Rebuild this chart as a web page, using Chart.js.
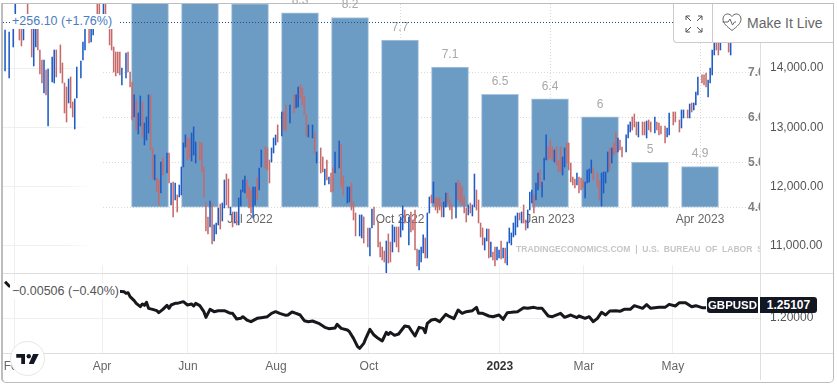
<!DOCTYPE html>
<html>
<head>
<meta charset="utf-8">
<script src="https://cdn.jsdelivr.net/npm/chart.js@4/dist/chart.umd.min.js"></script>
<style>
  html, body { margin: 0; padding: 0; background: #fff; width: 837px; height: 385px; overflow: hidden; font-family: "Liberation Sans", sans-serif; }
  canvas { position: absolute; display: block; }
  .frame { position: absolute; left: 1px; top: 3px; width: 830px; height: 378px; border: 1px solid #bdbdbd; border-left-width: 2px; border-radius: 0 0 5px 5px; }
  .hline { position: absolute; left: 3px; width: 830px; height: 1px; background: #dedede; }
  .vline { position: absolute; left: 760px; top: 43px; width: 1px; height: 337px; background: #dedede; }
  .change { position: absolute; background: #fff; white-space: nowrap; }
  #priceChange { left: 10px; top: 14px; width: 108px; height: 15px; line-height: 15px; font-size: 12.5px; color: #4a7cc0; padding-left: 2px; box-sizing: border-box; }
  #pairChange { left: 10px; top: 283px; width: 110px; height: 16px; line-height: 16px; font-size: 12.5px; color: #555; padding-left: 2px; box-sizing: border-box; }
  .toolbar { position: absolute; left: 673px; top: 4px; width: 159px; height: 38px; background: #fff; border-left: 1px solid #ccc; border-bottom: 1px solid #ccc; border-radius: 0 0 0 4px; }
  .toolbar .divider { position: absolute; left: 38px; top: 0; width: 1px; height: 38px; background: #ccc; }
  .toolbar svg { position: absolute; }
  .toolbar span { position: absolute; left: 73px; top: 11px; font-size: 14px; line-height: 16px; color: #666; white-space: nowrap; }
  .tag { position: absolute; top: 297px; height: 16px; line-height: 16px; background: #131722; color: #fff; font-size: 11.5px; font-weight: bold; text-align: center; }
  #pairTag { left: 707px; width: 51px; border-radius: 3px 0 0 3px; }
  #lastTag { left: 760px; width: 57px; border-radius: 0 3px 3px 0; font-size: 12px; }
  .logo { position: absolute; left: 10px; top: 341px; width: 33px; height: 33px; border: 1px solid #e6e6e6; border-radius: 50%; background: #fff; }
  .logo svg { position: absolute; left: 5px; top: 12px; }
</style>
</head>
<body>
<div class="frame"></div>
<canvas id="priceChart" width="830" height="273" style="left:3px;top:0"></canvas>
<canvas id="pairChart" width="830" height="109" style="left:3px;top:273px"></canvas>
<div class="hline" style="top:273px"></div>
<div class="hline" style="top:353px"></div>
<div class="vline"></div>
<div class="change" id="priceChange">+256.10 (+1.76%)</div>
<div class="change" id="pairChange">&#8722;0.00506 (&#8722;0.40%)</div>
<div class="toolbar">
  <svg style="left:11px;top:11px" width="18" height="18" viewBox="0 0 18 18" fill="none" stroke="#555" stroke-width="1">
    <path d="M1 5V1H5M1 1L6 6M13 1H17V5M17 1L12 6M1 13V17H5M1 17L6 12M17 13V17H13M17 17L12 12"/>
  </svg>
  <div class="divider"></div>
  <svg style="left:48px;top:9px" width="20" height="19" viewBox="0 0 20 19" fill="none" stroke="#666" stroke-width="1">
    <path d="M10 17.5C5 13.5 1 10.5 1 6C1 3 3 1 5.5 1C7.5 1 9 2 10 3.5C11 2 12.500 1 14.500 1C17 1 19 3 19 6C19 10.500 15 13.500 10 17.500Z"/>
    <path d="M0.500 9H6L8 6L10.500 12L12.500 9H14"/>
  </svg>
  <span>Make It Live</span>
</div>
<div class="tag" id="pairTag">GBPUSD</div>
<div class="tag" id="lastTag">1.25107</div>
<div class="logo">
  <svg width="23" height="10" viewBox="0 0 36 16" fill="#131722">
    <path d="M14 16H8V6H0V0H14Z"/>
    <circle cx="20" cy="3.500" r="3.500"/>
    <path d="M27 0H36L28 16H20Z"/>
  </svg>
</div>

<script>
// Monthly US inflation bars (May 2022 - Apr 2023)
const cpiMonths = ['May 2022', 'Jun 2022', 'Jul 2022', 'Aug 2022', 'Sep 2022', 'Oct 2022', 'Nov 2022', 'Dec 2022', 'Jan 2023', 'Feb 2023', 'Mar 2023', 'Apr 2023'];
const cpiValues = [8.6, 9.1, 8.5, 8.3, 8.2, 7.7, 7.1, 6.5, 6.4, 6, 5, 4.9];
const cpiTicks = [7, 6, 5, 4];
const cpiTickLabels = ['7.0', '6.0', '5.0', '4.0'];
const cpiDateTicks = [2, 5, 8, 11];
const cpiDateLabels = ['Jul 2022', 'Oct 2022', 'Jan 2023', 'Apr 2023'];

// Daily price range bars
const candleDay = [
  1,3,5,6,8,9,10,12,14,15,
  16,17,18,19,20,21,22,24,25,26,
  28,29,30,31,32,33,34,35,36,38,
  39,40,42,43,44,46,47,49,50,52,
  53,54,55,56,57,58,60,61,62,63,
  64,65,66,67,68,69,70,71,72,73,
  74,75,76,77,78,80,81,82,83,84,
  85,86,87,88,89,90,91,92,93,94,
  96,97,98,99,100,101,102,103,104,105,
  106,107,108,109,110,111,112,113,114,115,
  116,117,118,119,120,121,122,123,124,125,
  126,128,129,130,131,132,133,134,136,137,
  138,140,142,143,144,145,146,147,148,149,
  151,152,153,155,156,157,158,159,160,161,
  162,164,165,166,168,169,170,171,172,174,
  175,176,178,179,180,181,183,184,185,186,
  187,188,189,190,191,192,193,194,195,196,
  198,199,200,201,202,203,204,205,206,207,
  208,209,210,211,212,213,214,215,216,217,
  218,219,221,222,223,224,225,226,227,228,
  229,230,231,232,233,234,235,236,237,238,
  239,240,241,242,243,244,245,246,247,248,
  249,250,251,252,253,254,255,256,257,258,
  259,260,261,262,263,264,265,266,267,268,
  269,270,271,272,273,274,275,276,277,278,
  279,280,281,282,283,284,285,286,287,288,
  290,291,292,293,294,295,296,297,298,299,
  300,301,302,304,305,306,307,308,309,310,
  312,313,314,315,316,318,319,320,321,323,
  324,325,327,328,330,331,332,334,335,336,
  337,338,339,341,342,343,344,345,346,347,
  348,349,350,354,355
];
const candleHigh = [
  14643,14609,14812,15099,14897,14897,14812,15099,14728,14728,
  14728,14728,14305,14136,14136,13967,13984,14187,14305,14305,
  14390,14085,13747,13680,13815,13849,13426,13477,14018,14119,
  14440,14728,14728,14728,14728,15099,15099,15099,15099,14728,
  14728,14356,14271,14271,14271,14001,14254,14271,13933,13764,
  13545,13460,13240,13528,13426,13071,13173,13545,13545,12649,
  12531,12142,12108,12412,12480,12564,12564,12057,12074,12057,
  11855,12023,12328,12733,12869,12818,12818,12902,13004,12750,
  12750,12733,12328,11736,11483,11753,11719,11348,11381,11635,
  11702,11719,12108,12209,12125,11652,11567,11567,11567,11804,
  11939,12108,12176,12108,11990,11939,11990,11990,12142,12311,
  12615,12666,12649,12446,12649,12818,12869,13038,13257,13257,
  13375,13375,13545,13545,13680,13714,13663,13511,13207,13038,
  13038,12902,12581,12649,12497,12294,12446,12159,12226,12311,
  12581,12767,12700,12176,11990,11990,12057,11736,11550,11517,
  11517,11483,11297,11297,11618,11652,11398,11060,10976,10908,
  11077,11196,11060,11348,11314,11314,11314,11483,11669,11601,
  11483,11567,11432,11601,10942,10925,10976,11179,11128,11550,
  11821,11855,12074,11804,11804,11804,11719,11736,11888,11888,
  11770,11686,12057,12108,12057,11990,11821,11635,11686,11719,
  11686,12209,11939,11770,11381,11297,11128,11280,11280,11060,
  10891,10976,10976,10925,11077,10959,10959,11060,11297,11213,
  11381,11500,11550,11550,11567,11686,11432,11601,11905,11939,
  11855,12057,12226,12277,12074,12480,12869,12666,12784,12666,
  12615,12666,12446,12666,12497,12649,12733,12733,12395,12159,
  12125,12226,12159,12142,12108,12074,12277,12294,12446,12311,
  12226,12108,12226,12243,12243,12581,12649,12649,12733,12919,
  12818,12784,12666,12869,13038,13088,13173,13223,13088,13088,
  13088,13088,13105,13122,13088,13173,13088,13071,13021,13021,
  12987,13240,13257,13257,13122,13291,13291,13291,13392,13409,
  13409,13595,13849,13883,13883,13916,13798,14001,14305,14559,
  14559,14559,14559,14559,14559
];
const candleLow = [
  13950,13832,14356,14728,14474,14373,14474,14728,14187,14035,
  14356,14305,13899,13747,13578,13545,13021,13764,13747,13849,
  13916,13747,13240,13088,13409,13325,13173,12970,13494,13832,
  14136,14305,14423,14440,14559,14812,14778,14728,14728,14390,
  14305,13933,13866,13916,13883,13714,13832,13933,13680,13122,
  13173,12953,12885,13021,12835,12700,12784,12902,12615,12125,
  12108,11905,11686,11888,12193,12226,12057,11686,11483,11770,
  11567,11821,11855,12328,12666,12446,12480,12429,12531,12395,
  12446,12243,11821,11246,11196,11314,11026,11077,11196,11348,
  11280,11415,11635,11686,11635,11517,11314,11381,11348,11348,
  11669,11905,11888,11804,11635,11550,11466,11686,11770,11939,
  12328,12311,12277,12057,12412,12564,12700,12750,12852,12953,
  12936,13071,13240,13325,13342,13494,13375,13207,12852,12835,
  12818,12564,12395,12226,12243,12023,12108,12040,11905,11905,
  12226,12311,11990,11855,11719,11736,11601,11432,11162,11162,
  11128,11043,10976,10824,11297,11348,10976,10807,10756,10722,
  10537,10705,10722,10891,11060,10976,10891,11145,11263,11381,
  11010,11229,11263,10925,10655,10587,10722,10874,10790,10790,
  11550,11719,11719,11601,11550,11601,11483,11483,11652,11719,
  11601,11449,11466,11770,11719,11686,11550,11398,11517,11550,
  11499,11652,11601,11381,11145,11010,10925,11077,10790,10807,
  10756,10655,10756,10790,10773,10790,10705,10672,11043,11010,
  11145,11179,11314,11432,11381,11381,11263,11297,11601,11719,
  11550,11770,11939,11990,11821,12108,12446,12446,12480,12446,
  12412,12362,12243,12243,12193,12328,12395,12277,12074,12023,
  11973,12023,11888,11939,11973,11804,12057,12074,12226,12108,
  11990,11770,11669,11888,12057,12243,12277,12395,12531,12564,
  12581,12615,12497,12581,12818,12919,12953,13004,12869,12835,
  12869,12869,12818,12953,12919,12902,12953,12869,12885,12733,
  12835,12869,13038,13088,12919,12987,13156,13156,13156,13257,
  13291,13375,13545,13747,13714,13680,13511,13747,13883,14220,
  14305,14220,14305,14271,14220
];
const candleUp = [
  1,1,1,1,0,0,1,0,0,1,
  1,0,0,0,1,0,1,1,1,0,
  0,0,0,0,1,0,0,1,1,1,
  1,1,0,1,1,0,0,1,0,0,
  0,0,0,0,0,1,1,0,0,0,
  1,0,1,1,0,1,1,1,0,0,
  1,0,0,1,0,1,0,1,0,1,
  0,1,1,1,1,0,0,1,1,1,
  0,0,0,0,0,1,0,1,1,1,
  0,1,1,0,0,1,0,1,0,1,
  1,1,1,0,0,0,1,1,0,1,
  1,0,0,0,1,1,1,0,1,0,
  0,1,0,1,1,0,0,0,0,1,
  1,0,1,0,0,1,0,1,0,0,
  1,1,0,0,1,1,0,0,0,1,
  1,0,0,1,1,0,0,0,0,0,
  1,0,0,1,1,0,0,1,1,0,
  1,0,0,0,0,1,1,1,0,1,
  1,0,1,0,0,0,0,1,1,0,
  0,0,1,0,0,0,0,0,1,0,
  1,1,0,0,0,0,1,1,0,1,
  0,0,1,1,0,1,0,1,1,1,
  1,1,1,0,1,0,0,1,1,1,
  0,1,1,0,1,1,1,0,0,0,
  1,0,0,0,1,1,0,0,0,0,
  0,1,0,0,0,1,1,1,1,0,
  0,0,1,1,1,1,0,1,0,0,
  1,0,0,1,1,1,0,0,0,1,
  0,0,1,0,0,1,0,0,0,0,
  1,1,0,0,0,1,1,0,1,0,
  1,1,1,0,0,0,1,1,1,1,
  0,0,1,0,1
];
const priceTicks = [14000, 13000, 12000, 11000];
const lastPrice = 14783;

// GBPUSD line in the lower pane
const pairDay = [
  1,3,10,20,30,40,50,59,60,61,
  62,64,65,67,68,69,70,71,73,75,
  76,78,80,81,82,84,85,88,90,92,
  93,94,96,98,99,101,103,105,108,111,
  112,114,116,117,119,121,124,126,129,131,
  133,135,138,139,141,143,145,147,149,151,
  154,157,159,162,163,165,168,169,171,173,
  174,176,177,179,181,183,185,187,188,189,
  191,193,196,198,199,201,203,205,206,207,
  209,211,213,216,218,220,222,224,226,229,
  231,232,234,237,239,242,244,246,248,251,
  254,256,259,261,263,266,268,272,274,277,
  280,281,284,286,288,290,292,294,296,299,
  301,303,306,308,311,312,314,316,320,323,
  325,328,330,333,336,338,341,343
];
const pairValue = [
  1.3428,1.3258,1.3166,1.3100,1.3166,1.3074,1.3100,1.3035,1.2969,1.2996,
  1.2838,1.2681,1.2576,1.2445,1.2550,1.2498,1.2616,1.2380,1.2341,1.2288,
  1.2210,1.2341,1.2498,1.2380,1.2511,1.2576,1.2576,1.2642,1.2511,1.2550,
  1.2472,1.2576,1.2485,1.2249,1.2026,1.2341,1.2249,1.2288,1.2288,1.2183,
  1.2183,1.1961,1.1987,1.2052,1.1921,1.1856,1.1987,1.2013,1.2052,1.2183,
  1.2249,1.2183,1.2105,1.2118,1.2236,1.2183,1.2118,1.1895,1.1856,1.1882,
  1.1790,1.1633,1.1581,1.1607,1.1751,1.1594,1.1528,1.1463,1.1201,1.0873,
  1.0808,1.1004,1.1201,1.1555,1.1332,1.1201,1.1096,1.1437,1.1358,1.1437,
  1.1319,1.1371,1.1686,1.1659,1.1528,1.1293,1.1633,1.1594,1.1424,1.1790,
  1.1921,1.1948,1.1856,1.2144,1.2052,1.1974,1.2314,1.2183,1.2249,1.2288,
  1.2419,1.2183,1.2183,1.2079,1.2052,1.2118,1.1948,1.2210,1.2223,1.2249,
  1.2406,1.2380,1.2419,1.2380,1.2380,1.2079,1.2052,1.2183,1.2026,1.2118,
  1.2013,1.2079,1.1987,1.2052,1.1856,1.1987,1.2223,1.2118,1.2275,1.2288,
  1.2262,1.2341,1.2341,1.2485,1.2406,1.2380,1.2524,1.2380,1.2419,1.2419,
  1.2537,1.2472,1.2603,1.2603,1.2445,1.2485,1.2406,1.2406
];
const pairTicks = [1.2];

// Shared time axis
const monthTickDays = [5.4, 48.3, 90.2, 133.2, 178.5, 242.4, 283.4, 326.8];
const monthTickLabels = ['Feb', 'Apr', 'Jun', 'Aug', 'Oct', '2023', 'Mar', 'May'];

const sansFont = '"Liberation Sans", sans-serif';

// Drawn under the marks: white layer over the price grid, dotted inflation grid, date labels
const overlayUnder = {
  id: 'overlayUnder',
  beforeDatasetsDraw(chart) {
    const ctx = chart.ctx, area = chart.chartArea;
    const cpiY = chart.scales.y1, cpiX = chart.scales.x2;
    const fade = ctx.createLinearGradient(62, 0, 86, 0);
    fade.addColorStop(0, 'rgba(255,255,255,0)');
    fade.addColorStop(1, '#fff');
    ctx.save();
    ctx.fillStyle = fade;
    ctx.fillRect(62, area.top, area.right - 62, 261);

    ctx.strokeStyle = '#d9d9d9';
    ctx.lineWidth = 1;
    ctx.setLineDash([1, 2]);
    cpiTicks.forEach(v => {
      const y = Math.round(cpiY.getPixelForValue(v)) + 0.5;
      ctx.beginPath();
      ctx.moveTo(100, y);
      ctx.lineTo(area.right, y);
      ctx.stroke();
    });
    cpiDateTicks.forEach(m => {
      const x = Math.round(cpiX.getPixelForValue(m)) + 0.5;
      ctx.beginPath();
      ctx.moveTo(x, area.top);
      ctx.lineTo(x, cpiY.getPixelForValue(4));
      ctx.stroke();
    });
    ctx.setLineDash([]);

    ctx.font = '12px ' + sansFont;
    ctx.fillStyle = '#666';
    ctx.textAlign = 'center';
    ctx.textBaseline = 'middle';
    cpiDateTicks.forEach((m, i) => {
      ctx.fillText(cpiDateLabels[i], cpiX.getPixelForValue(m), cpiY.getPixelForValue(4) + 12.5);
    });

    // the source line and inflation labels are cut at the price axis
    ctx.beginPath();
    ctx.rect(area.left, area.top, area.right - area.left, area.bottom - area.top);
    ctx.clip();
    ctx.fillStyle = '#c6c6c6';
    ctx.font = 'bold 9px ' + sansFont;
    ctx.textAlign = 'left';
    ctx.fillText('TRADINGECONOMICS.COM  |  U.S.  BUREAU  OF  LABOR  STATISTICS', 513, 250, 290);
    ctx.fillStyle = '#808080';
    ctx.font = 'bold 12px ' + sansFont;
    cpiTicks.forEach((v, i) => {
      ctx.fillText(cpiTickLabels[i], area.right - 13, cpiY.getPixelForValue(v) + 0.5);
    });
    ctx.restore();
  }
};

// Drawn over the marks: bar values and the last price dotted line
const overlayOver = {
  id: 'overlayOver',
  afterDatasetsDraw(chart) {
    const ctx = chart.ctx, area = chart.chartArea;
    const bars = chart.getDatasetMeta(0).data;
    ctx.save();
    ctx.font = '12px ' + sansFont;
    ctx.fillStyle = '#a8a8a8';
    ctx.textAlign = 'center';
    ctx.textBaseline = 'middle';
    bars.forEach((el, i) => {
      ctx.fillText(String(cpiValues[i]), el.x, el.y - 12.5);
    });
    const y = Math.round(chart.scales.y.getPixelForValue(lastPrice)) + 0.5;
    ctx.strokeStyle = '#1b4f8f';
    ctx.lineWidth = 1;
    ctx.setLineDash([1, 2]);
    ctx.beginPath();
    ctx.moveTo(area.left, y);
    ctx.lineTo(670, y);
    ctx.stroke();
    ctx.restore();
  }
};

// the plot has to fill its pane, so drop the room Chart.js keeps for first and last labels
function noLabelRoom(scale) {
  scale.paddingTop = 0;
  scale.paddingBottom = 0;
  scale.paddingLeft = 0;
  scale.paddingRight = 0;
}

new Chart(document.getElementById('priceChart').getContext('2d'), {
  data: {
    datasets: [{
      type: 'bar',
      label: 'Inflation',
      xAxisID: 'x2',
      yAxisID: 'y1',
      order: 2,
      grouped: false,
      data: cpiValues.map((v, i) => ({ x: i, y: [4, v] })),
      barThickness: 37,
      backgroundColor: '#6c9bc4',
      borderColor: '#a9c6de',
      borderWidth: 1,
      borderSkipped: false
    }, {
      type: 'bar',
      label: 'Price',
      xAxisID: 'x',
      yAxisID: 'y',
      order: 1,
      grouped: false,
      data: candleDay.map((d, i) => ({ x: d, y: [candleLow[i], candleHigh[i]] })),
      barThickness: 0.9,
      backgroundColor: candleUp.map(u => u ? '#1d5cc6' : '#c76a6a')
    }]
  },
  options: {
    responsive: false,
    animation: false,
    events: [],
    layout: { padding: { top: 4, left: 0, right: 0, bottom: 0 } },
    plugins: { legend: { display: false }, tooltip: { enabled: false } },
    scales: {
      x: {
        type: 'linear',
        offset: false,
        min: 0,
        max: 369.8,
        afterBuildTicks: s => { s.ticks = monthTickDays.map(v => ({ value: v })); },
        afterFit: s => { s.height = 0; noLabelRoom(s); },
        ticks: { display: false },
        border: { display: false },
        grid: { color: '#efefef', drawTicks: false, offset: false }
      },
      x2: { type: 'linear', offset: false, display: false, min: -2.94, max: 12.22 },
      y: {
        position: 'right',
        min: 10536,
        max: 15082,
        afterBuildTicks: s => { s.ticks = priceTicks.map(v => ({ value: v })); },
        afterFit: s => { s.width = 72; noLabelRoom(s); },
        ticks: {
          padding: 9,
          color: '#555',
          font: { family: sansFont, size: 12 },
          callback: v => v.toLocaleString('en-US', { minimumFractionDigits: 2 })
        },
        border: { display: false },
        grid: { color: '#efefef', drawTicks: false }
      },
      y1: { display: false, min: 2.546, max: 8.498 }
    }
  },
  plugins: [overlayUnder, overlayOver]
});

new Chart(document.getElementById('pairChart').getContext('2d'), {
  type: 'line',
  data: {
    datasets: [{
      label: 'GBPUSD',
      data: pairDay.map((d, i) => ({ x: d, y: pairValue[i] })),
      borderColor: '#17171c',
      borderWidth: 3,
      pointRadius: 0,
      tension: 0,
      borderJoinStyle: 'round'
    }]
  },
  options: {
    responsive: false,
    animation: false,
    events: [],
    layout: { padding: 0 },
    plugins: { legend: { display: false }, tooltip: { enabled: false } },
    scales: {
      x: {
        type: 'linear',
        min: 0,
        max: 369.8,
        afterBuildTicks: s => { s.ticks = monthTickDays.map(v => ({ value: v })); },
        afterFit: s => { s.height = 29; noLabelRoom(s); },
        ticks: {
          padding: 6,
          autoSkip: false,
          maxRotation: 0,
          color: c => monthTickLabels[c.index] === '2023' ? '#333' : '#666',
          font: c => ({ family: sansFont, size: 12, weight: monthTickLabels[c.index] === '2023' ? 'bold' : 'normal' }),
          callback: (v, i) => monthTickLabels[i]
        },
        border: { display: false },
        grid: { color: '#efefef', drawTicks: false }
      },
      y: {
        position: 'right',
        min: 1.0625,
        max: 1.3769,
        afterBuildTicks: s => { s.ticks = pairTicks.map(v => ({ value: v })); },
        afterFit: s => { s.width = 72; noLabelRoom(s); },
        ticks: {
          padding: 9,
          color: '#555',
          font: { family: sansFont, size: 12 },
          callback: v => v.toFixed(5)
        },
        border: { display: false },
        grid: { color: '#efefef', drawTicks: false }
      }
    }
  }
});
</script>
</body>
</html>
